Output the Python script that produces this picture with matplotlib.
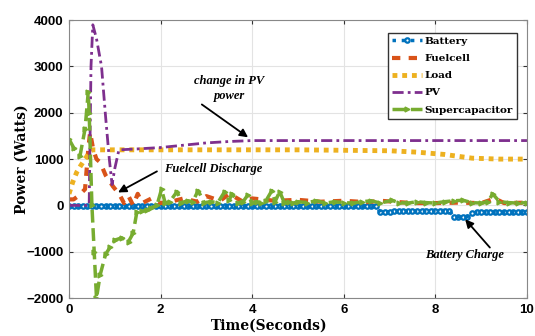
import numpy as np
import matplotlib.pyplot as plt

# time (s) and power (W)
t_pv = [0, 0.44, 0.48, 0.52, 0.6, 0.71, 0.8, 0.88, 0.94, 1.0, 1.09, 1.5, 2.0, 2.5, 3.0, 3.5, 4.0, 5, 6, 7, 8, 9, 10]
pv = [0, 0, 3000, 3900, 3600, 3000, 1900, 1000, 450, 800, 1200, 1220, 1250, 1300, 1350, 1380, 1400, 1400, 1400, 1400, 1400, 1400, 1400]

t_load = [0, 0.08, 0.17, 0.25, 0.35, 0.45, 0.5, 0.7, 1, 2, 3, 4, 5, 6, 7, 7.6, 8.2, 8.8, 9.4, 10]
load = [250, 500, 720, 850, 1000, 1150, 1200, 1200, 1200, 1200, 1200, 1200, 1200, 1190, 1180, 1150, 1100, 1020, 1000, 1000]

t_fc = [0, 0.1, 0.2, 0.35, 0.42, 0.46, 0.53, 0.6, 0.68, 0.8, 0.96, 1.1, 1.2, 1.3, 1.4, 1.5, 1.6, 1.8, 2.0, 2.3, 2.5, 2.8,
        3.0, 3.3, 3.5, 3.8, 4.0, 4.5, 5.0, 5.5, 6.0, 6.5, 6.8, 7.5, 8.0, 8.5, 9.0, 9.3, 9.5, 10]
fuelcell = [130, 130, 200, 350, 1200, 1580, 1200, 1000, 930, 650, 410, 240, 50, 200, 0, 250, 50, 150, 50, 100, 150, 80, 200,
            100, 250, 80, 150, 100, 120, 80, 100, 70, 100, 50, 50, 60, 50, 150, 50, 60]

t_bat = np.arange(0, 10.01, 0.1)
battery = [-20, -10, -20, -10, -20, -10, -20, -10, -20, -10,
           -20, -10, -20, -10, -20, -10, -20, -10, -20, -10,
           -20, -10, -20, -10, -20, -10, -20, -10, -20, -10,
           -20, -10, -20, -10, -20, -10, -20, -10, -20, -10,
           -20, -10, -20, -10, -20, -10, -20, -10, -20, -10,
           -20, -10, -20, -10, -20, -10, -20, -10, -20, -10,
           -20, -10, -20, -10, -20, -10, -20, -10, -150, -140,
           -140, -130, -130, -130, -120, -120, -120, -110, -110, -110,
           -110, -110, -110, -110, -240, -250, -250, -240, -170, -150,
           -150, -150, -150, -150, -150, -150, -150, -150, -150, -150,
           -150]

t_sc = [0, 0.1, 0.24, 0.35, 0.42, 0.44, 0.5, 0.55, 0.6, 0.68, 0.8, 0.9, 1.0, 1.15, 1.3, 1.4, 1.48, 1.6, 1.7, 1.8, 1.92,
        2.02, 2.1, 2.2, 2.36, 2.45, 2.6, 2.7, 2.82, 2.95, 3.1, 3.25, 3.4, 3.5, 3.56, 3.7, 3.8, 3.9, 4.0, 4.1, 4.2, 4.3,
        4.43, 4.5, 4.6, 4.7, 4.8, 4.9, 5.0, 5.2, 5.4, 5.6, 5.8, 6.0, 6.2, 6.4, 6.6, 6.8, 7.05, 7.2, 7.4, 7.6, 7.8,
        8.0, 8.2, 8.4, 8.6, 8.8, 9.0, 9.15, 9.25, 9.4, 9.6, 9.8, 10]
supercap = [1430, 1250, 1070, 1650, 2450, 2000, 0, -1000, -2000, -1500, -1050, -900, -750, -700, -780, -600, -150, -120, -100, -50, 0,
            350, 50, 80, 300, 60, 100, 80, 320, 60, 80, 60, 300, 120, 250, 60, 80, 220, 60, 80, 60, 100,
            320, 80, 300, 60, 80, 50, 80, 60, 100, 50, 80, 60, 50, 80, 100, 50, 110, 60, 50, 80, 60,
            50, 80, 100, 110, 60, 50, 80, 250, 80, 60, 50, 60]

plt.rcParams['font.family'] = ['DejaVu Serif']

fig = plt.figure(figsize=(5.35, 3.36), dpi=100)
ax = fig.add_axes([0.129, 0.113, 0.856, 0.827])

ax.plot(t_bat, battery, color='#0072BD', linestyle=':', linewidth=2.5, marker='o',
        markersize=3.2, markerfacecolor='none', markeredgewidth=1.6, label='Battery')
ax.plot(t_fc, fuelcell, color='#D95319', linestyle=(0, (2, 2)), linewidth=3, label='Fuelcell')
ax.plot(t_load, load, color='#EDB120', linestyle=(0, (1, 1)), linewidth=3.5, label='Load')
ax.plot(t_pv, pv, color='#7E2F8E', linestyle=(0, (4, 1.5, 1, 1.5)), linewidth=2, label='PV')
ax.plot(t_sc, supercap, color='#77AC30', linestyle='--', linewidth=2.5, marker='>',
        markersize=3.5, label='Supercapacitor')

ax.set_xlim(0, 10)
ax.set_ylim(-2000, 4000)
ax.set_xticks([0, 2, 4, 6, 8, 10])
ax.set_yticks([-2000, -1000, 0, 1000, 2000, 3000, 4000])
ax.grid(True, color='#e3e3e3', linewidth=0.8)
for lab in ax.get_xticklabels() + ax.get_yticklabels():
    lab.set_family('Liberation Sans')
    lab.set_fontweight('bold')
    lab.set_fontsize(9.5)
ax.tick_params(direction='in', length=3, color='#333333', top=True, right=True, pad=4)
for s in ax.spines.values():
    s.set_color('#888888')

ax.set_xlabel('Time(Seconds)', fontweight='bold', fontsize=10)
ax.xaxis.set_label_coords(0.437, -0.075)
ax.set_ylabel('Power (Watts)', fontweight='bold', fontsize=10)
ax.yaxis.set_label_coords(-0.088, 0.5)

ax.legend(loc='upper right', bbox_to_anchor=(0.978, 0.955),
          prop={'family': 'DejaVu Serif', 'weight': 'bold', 'size': 7.5}, fancybox=False,
          edgecolor='#333333', framealpha=1, handlelength=2.9, handletextpad=0.2,
          labelspacing=0.75, borderpad=0.4, borderaxespad=0)

note = dict(family='Liberation Serif', style='italic', fontweight='bold', fontsize=9)
arrow = dict(arrowstyle='-|>', color='black', lw=1.3, mutation_scale=12, shrinkA=0, shrinkB=0)

ax.text(3.5, 2530, 'change in PV\npower', ha='center', va='center', linespacing=1.3, **note)
ax.annotate('', xy=(3.91, 1470), xytext=(2.9, 2180), arrowprops=arrow)
ax.text(3.14, 780, 'Fuelcell Discharge', ha='center', va='center', **note)
ax.annotate('', xy=(1.07, 280), xytext=(1.92, 735), arrowprops=arrow)
ax.text(8.64, -1080, 'Battery Charge', ha='center', va='center', **note)
ax.annotate('', xy=(8.65, -300), xytext=(9.19, -910), arrowprops=arrow)

fig.savefig('out.png', dpi=100)
